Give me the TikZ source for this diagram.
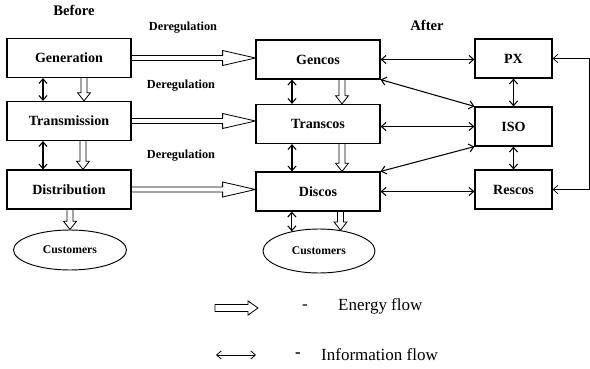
\documentclass[tikz,border=0pt]{standalone}
\usepackage{fontspec}
\setmainfont{Liberation Serif}
\usetikzlibrary{arrows.meta,shapes.geometric,calc}

\begin{document}
\begin{tikzpicture}[x=0.03cm,y=-0.03cm,
    box/.style={draw,line width=1pt,minimum width=3.72cm,minimum height=1.17cm,font=\bfseries\fontsize{12}{14}\selectfont},
    sbox/.style={box,minimum width=2.31cm},
    cust/.style={draw,ellipse,line width=0.8pt,minimum width=3.39cm,minimum height=1.2cm,inner sep=0pt,font=\bfseries\fontsize{10}{12}\selectfont},
    info/.style={{Straight Barb[length=4pt,width=7pt]}-{Straight Barb[length=4pt,width=7pt]},line width=0.9pt},
    energy/.style n args={4}{line width=0.7pt,line join=miter,to path={
        let \p1=(\tikztostart), \p2=(\tikztotarget), \n1={atan2(\y2-\y1,\x2-\x1)} in
        ($(\p1)+(\n1+90:#1)$) -- ($(\p2)+(\n1+180:#2)+(\n1+90:#1)$) -- ($(\p2)+(\n1+180:#2)+(\n1+90:#3)$)
        -- (\p2) -- ($(\p2)+(\n1+180:#2)+(\n1-90:#3)$) -- ($(\p2)+(\n1+180:#2)+(\n1-90:#1)$)
        -- ($(\p1)+(\n1-90:#1)$) #4}},
    lbl/.style={font=\bfseries\fontsize{10.5}{12}\selectfont},
    head/.style={font=\bfseries\fontsize{12.5}{14}\selectfont},
    key/.style={inner sep=0pt,font=\fontsize{14.5}{17}\selectfont}]
    \useasboundingbox (0,0) rectangle (590,369);

    % Before %
    \node[head] (before) at (74,10) {Before};
    \node[box] (gen) at (69,58) {Generation};
    \node[box] (trans) at (69,121) {Transmission};
    \node[box] (dist) at (69,189.5) {Distribution};
    \node[cust] (custL) at (70,250) {Customers};

    % After %
    \node[head] (after) at (427,25) {After};
    \node[box] (genco) at (318,59.5) {Gencos};
    \node[box] (transco) at (318,124) {Transcos};
    \node[box] (disco) at (318,191.5) {Discos};
    \node[cust,minimum width=3.36cm,minimum height=1.32cm] (custM) at (319,251) {Customers};
    \node[sbox] (px) at (513.5,58.5) {PX};
    \node[sbox] (iso) at (513.5,126.5) {ISO};
    \node[sbox] (resco) at (513.5,189.5) {Rescos};
    \coordinate (fb) at (589,58.5);

    % Deregulation %
    \node[lbl] (dr1) at (183,28) {Deregulation};
    \node[lbl] (dr2) at (181,86) {Deregulation};
    \node[lbl] (dr3) at (181,156) {Deregulation};
    \draw[energy={2.2pt}{28pt}{6.4pt}{}] (gen.east) to (gen.east -| genco.west);
    \draw[energy={2.2pt}{28pt}{6.4pt}{}] (trans.east) to (trans.east -| transco.west);
    \draw[energy={2.2pt}{28pt}{6.4pt}{}] (dist.east) to (dist.east -| disco.west);

    % Before flows %
    \draw[info] ([xshift=-0.78cm]gen.south) -- ([xshift=-0.78cm]trans.north);
    \draw[energy={2.6pt}{7pt}{5.5pt}{}] ([xshift=0.45cm]gen.south) to ([xshift=0.45cm]trans.north);
    \draw[info] ([xshift=-0.78cm]trans.south) -- ([xshift=-0.78cm]dist.north);
    \draw[energy={2.6pt}{7pt}{5.5pt}{}] ([xshift=0.42cm]trans.south) to ([xshift=0.42cm]dist.north);
    \draw[energy={2.6pt}{7pt}{5.5pt}{}] (custL.north |- dist.south) to (custL.north);

    % After flows %
    \draw[info] ([xshift=-0.78cm]genco.south) -- ([xshift=-0.78cm]transco.north);
    \draw[energy={2.6pt}{7pt}{5.5pt}{}] ([xshift=0.72cm]genco.south) to ([xshift=0.72cm]transco.north);
    \draw[info] ([xshift=-0.78cm]transco.south) -- ([xshift=-0.78cm]disco.north);
    \draw[energy={2.6pt}{7pt}{5.5pt}{}] ([xshift=0.72cm]transco.south) to ([xshift=0.72cm]disco.north);
    \draw[info] (custM.144 |- disco.south) -- (custM.144);
    \draw[energy={2.6pt}{7pt}{5.5pt}{}] (custM.44 |- disco.south) to (custM.44);

    \draw[info] (genco.east) -- (genco.east -| px.west);
    \draw[info] (genco.south east) -- (iso.north west);
    \draw[info] (transco.east |- iso.west) -- (iso.west);
    \draw[info] (disco.north east) -- (iso.south west);
    \draw[info] (disco.east) -- (disco.east -| resco.west);
    \draw[info] (px.south) -- (iso.north);
    \draw[info] (iso.south) -- (resco.north);
    \draw[info,line width=0.6pt] (px.east) -- (fb) |- (resco.east);

    % Legend %
    \coordinate (e1) at (215,308);
    \coordinate (e2) at (258,308);
    \draw[energy={3pt}{8.5pt}{6pt}{-- cycle}] (e1) to (e2);
    \node[key] (dash1) at (305,307) {-};
    \node[key,anchor=west] (eflow) at (338,306) {Energy flow};
    \coordinate (i1) at (216,355);
    \coordinate (i2) at (256,355);
    \draw[info,line width=0.7pt] (i1) -- (i2);
    \node[key,font=\bfseries\fontsize{14.5}{17}\selectfont] (dash2) at (298,355) {-};
    \node[key,anchor=west] (iflow) at (321,355) {Information flow};
\end{tikzpicture}
\end{document}
